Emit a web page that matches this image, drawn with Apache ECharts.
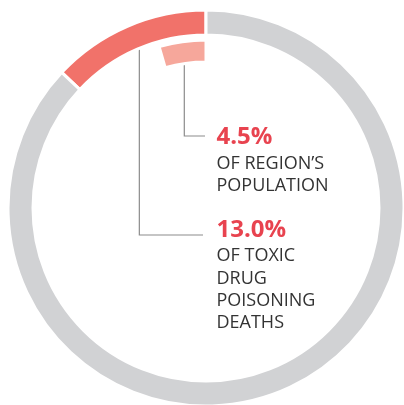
<!DOCTYPE html>
<html>
<head>
<meta charset="utf-8">
<script src="https://cdn.jsdelivr.net/npm/echarts@6/dist/echarts.min.js"></script>
<style>
html,body{margin:0;padding:0;background:#fff;}
#chart{width:404px;height:405px;}
</style>
</head>
<body>
<div id="chart"></div>
<script>
// ---- data ----
const categories = ['Region', 'Rest of province'];
const deathsShare = [13.0, 87.0];
const populationShare = [4.5, 95.5];
const numberLabels = ['4.5%', '13.0%'];
const textLines = [
  ['OF REGION\u2019S', 'POPULATION'],
  ['OF TOXIC', 'DRUG', 'POISONING', 'DEATHS']
];

// ---- styles ----
const C = { cx: 206, cy: 208 };
const RED = '#f1726a', PALE = '#f6a79b', GRAY = '#d1d2d4', NUM = '#e8434f', TXT = '#333333', LINE = '#8c8c8c';

const chart = echarts.init(document.getElementById('chart'), null, { renderer: 'canvas' });

const option = {
  animation: false,
  series: [
    {
      type: 'pie', center: [C.cx, C.cy], radius: [173, 198],
      startAngle: 90, clockwise: false, silent: true,
      label: { show: false }, labelLine: { show: false },
      itemStyle: { borderColor: '#ffffff', borderWidth: 3 },
      data: [
        { name: categories[0], value: deathsShare[0], itemStyle: { color: RED } },
        { name: categories[1], value: deathsShare[1], itemStyle: { color: GRAY } }
      ]
    },
    {
      type: 'pie', center: [C.cx, C.cy], radius: [146, 168],
      startAngle: 90, clockwise: false, silent: true,
      label: { show: false }, labelLine: { show: false },
      itemStyle: { borderColor: '#ffffff', borderWidth: 3 },
      data: [
        { name: categories[0], value: populationShare[0], itemStyle: { color: PALE } },
        { name: categories[1], value: populationShare[1], itemStyle: { color: 'rgba(0,0,0,0)', borderWidth: 0 } }
      ]
    }
  ]
};
chart.setOption(option);

function layoutOf(seriesIndex, dataIndex, fallback) {
  try {
    const l = chart.getModel().getSeriesByIndex(seriesIndex).getData().getItemLayout(dataIndex);
    if (l && isFinite(l.cx)) return l;
  } catch (e) {}
  return fallback;
}
function anchor(l, frac, dr) {
  const a = l.startAngle + (l.endAngle - l.startAngle) * frac;
  const rr = l.r0 + dr;
  return [l.cx + rr * Math.cos(a), l.cy + rr * Math.sin(a)];
}
const tot0 = deathsShare.reduce((a, b) => a + b, 0);
const tot1 = populationShare.reduce((a, b) => a + b, 0);
const lRed = layoutOf(0, 0, { cx: C.cx, cy: C.cy, r0: 173, r: 198, startAngle: -Math.PI / 2, endAngle: -Math.PI / 2 - 2 * Math.PI * deathsShare[0] / tot0 });
const lPale = layoutOf(1, 0, { cx: C.cx, cy: C.cy, r0: 146, r: 168, startAngle: -Math.PI / 2, endAngle: -Math.PI / 2 - 2 * Math.PI * populationShare[0] / tot1 });

const pPale = anchor(lPale, 0.51, 5);
const pRed = anchor(lRed, 0.47, 5);

const TX = 216.5;
const blocks = [
  { p: pPale, lineY: 136, lineX: 205, numY: 137.5, linesY0: 163.7 },
  { p: pRed, lineY: 235, lineX: 203, numY: 229.7, linesY0: 256 }
];
const LH = 22.4;
const elements = [];
blocks.forEach((b, i) => {
  elements.push({
    type: 'polyline', silent: true,
    shape: { points: [[b.p[0], b.p[1]], [b.p[0], b.lineY], [b.lineX, b.lineY]] },
    style: { stroke: LINE, lineWidth: 1.2, fill: null }
  });
  elements.push({
    type: 'circle', silent: true,
    shape: { cx: b.p[0], cy: b.p[1], r: 2.3 },
    style: { fill: '#555555' }
  });
  elements.push({
    type: 'text', silent: true, x: TX, y: b.numY,
    style: { text: numberLabels[i], font: 'bold 24px "Open Sans"', fill: NUM, textVerticalAlign: 'middle', verticalAlign: 'middle' }
  });
  textLines[i].forEach((t, k) => {
    elements.push({
      type: 'text', silent: true, x: TX, y: b.linesY0 + k * LH,
      style: { text: t, font: '18px "Open Sans"', fill: TXT, textVerticalAlign: 'middle', verticalAlign: 'middle' }
    });
  });
});
chart.setOption({ graphic: { elements: elements } });
</script>
</body>
</html>
